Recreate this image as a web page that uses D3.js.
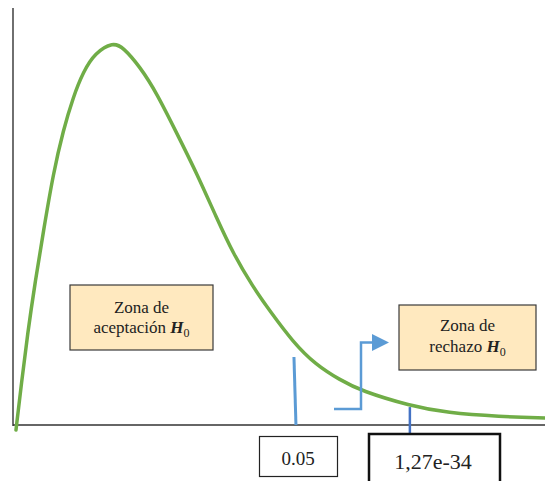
<!DOCTYPE html>
<html>
<head>
<meta charset="utf-8">
<script src="https://cdn.jsdelivr.net/npm/d3@7"></script>
<style>
  html, body { margin: 0; padding: 0; background: #fff; }
  svg { display: block; }
</style>
</head>
<body>
<svg id="chart" width="545" height="481"></svg>
<script>
// Density curve (x in arbitrary units, y = relative density)
const curveX = [0.056, 0.160, 0.273, 0.414, 0.570, 0.758, 0.945, 1.133, 1.321, 1.541, 1.880, 2.068, 2.387, 2.701, 3.077, 3.453, 3.829, 4.135, 4.511, 4.831, 5.263, 5.677, 6.147, 6.541, 7.462, 8.158, 9.154, 10.0];
const curveY = [-0.012, 0.101, 0.218, 0.341, 0.463, 0.604, 0.707, 0.787, 0.847, 0.892, 0.918, 0.906, 0.859, 0.796, 0.700, 0.604, 0.496, 0.412, 0.331, 0.273, 0.199, 0.146, 0.108, 0.082, 0.046, 0.029, 0.020, 0.017];

// Critical / observed markers
const markerLabels = ["0.05", "1,27e-34"];
const markerX = [5.30, 7.46];
const markerTop = [0.163, 0.043];

const SERIF = "'Liberation Serif'";
const svg = d3.select("#chart");
const x = d3.scaleLinear().domain([0, 10]).range([13, 545]);
const y = d3.scaleLinear().domain([0, 1]).range([425, 8]);

// Axes
svg.append("line").attr("x1", x(0)).attr("x2", x(0)).attr("y1", y(1)).attr("y2", y(0) + 1)
  .attr("stroke", "#222").attr("stroke-width", 1.3);
svg.append("line").attr("x1", x(0)).attr("x2", x(10)).attr("y1", y(0)).attr("y2", y(0))
  .attr("stroke", "#333").attr("stroke-width", 1.3);

// Curve
const pts = curveX.map((d, i) => [d, curveY[i]]);
const line = d3.line().x(d => x(d[0])).y(d => y(d[1])).curve(d3.curveBasis);
svg.append("path").attr("d", line(pts)).attr("fill", "none")
  .attr("stroke", "#70AD47").attr("stroke-width", 3.5).attr("stroke-linecap", "round");

// Marker lines
svg.append("line")
  .attr("x1", x(markerX[0]) - 1).attr("y1", y(markerTop[0]))
  .attr("x2", x(markerX[0]) + 1).attr("y2", y(0))
  .attr("stroke", "#5B9BD5").attr("stroke-width", 3);
svg.append("line")
  .attr("x1", x(markerX[1])).attr("y1", y(markerTop[1]))
  .attr("x2", x(markerX[1])).attr("y2", 434)
  .attr("stroke", "#4472C4").attr("stroke-width", 2.5);

// Arrow (annotation)
svg.append("path").attr("d", "M334,409 H361 V342.5 H373")
  .attr("fill", "none").attr("stroke", "#5B9BD5").attr("stroke-width", 2.5);
svg.append("path").attr("d", "M372,334 L389,342.5 L372,351 Z").attr("fill", "#5B9BD5");

// Zone boxes
function zoneBox(x0, y0, w, h, l1, l2, b1, b2) {
  const g = svg.append("g");
  g.append("rect").attr("x", x0).attr("y", y0).attr("width", w).attr("height", h)
    .attr("fill", "#FFE9BF").attr("stroke", "#3a3a3a").attr("stroke-width", 1.2);
  g.append("text").attr("x", x0 + w / 2).attr("y", y0 + b1)
    .attr("text-anchor", "middle").attr("font-size", 17).attr("fill", "#222")
    .style("font-family", SERIF).text(l1);
  const t2 = g.append("text").attr("x", x0 + w / 2).attr("y", y0 + b2)
    .attr("text-anchor", "middle").attr("font-size", 17).attr("fill", "#222")
    .style("font-family", SERIF);
  t2.append("tspan").text(l2 + " ");
  t2.append("tspan").attr("font-weight", "bold").attr("font-style", "italic").text("H");
  t2.append("tspan").attr("font-size", 12).attr("dy", 3.5).text("0");
}
zoneBox(70, 285, 143, 65, "Zona de", "aceptación", 28, 48);
zoneBox(399, 305, 137, 65, "Zona de", "rechazo", 26, 47);

// Value boxes
svg.append("rect").attr("x", 259.5).attr("y", 436.5).attr("width", 78).attr("height", 40)
  .attr("fill", "#fff").attr("stroke", "#222").attr("stroke-width", 1.2);
svg.append("text").attr("x", 298).attr("y", 465).attr("text-anchor", "middle")
  .attr("font-size", 19).attr("fill", "#222").style("font-family", SERIF).text(markerLabels[0]);

svg.append("rect").attr("x", 369).attr("y", 434).attr("width", 131).attr("height", 52)
  .attr("fill", "#fff").attr("stroke", "#111").attr("stroke-width", 2.5);
svg.append("text").attr("x", 433).attr("y", 469).attr("text-anchor", "middle")
  .attr("font-size", 22).attr("fill", "#222").style("font-family", SERIF).text(markerLabels[1]);
</script>
</body>
</html>
